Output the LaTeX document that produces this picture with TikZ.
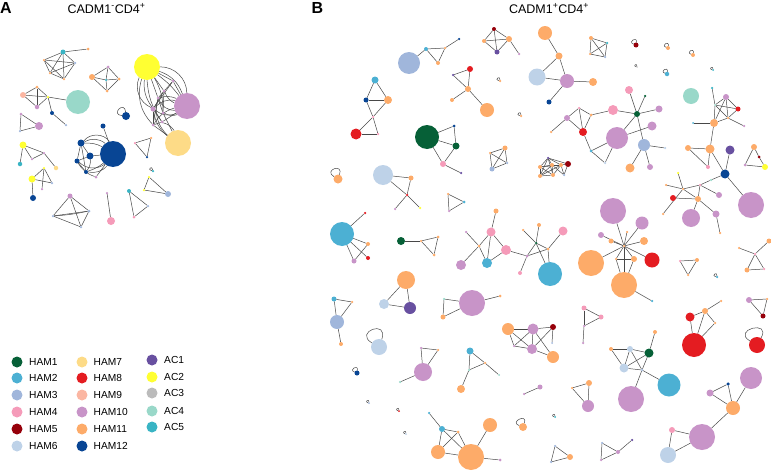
\documentclass[tikz,border=0pt]{standalone}
\usepackage{fontspec}
\setmainfont{Liberation Sans}
\pgfdeclarelayer{bg}
\pgfsetlayers{bg,main}
\definecolor{h1}{RGB}{6,96,55}
\definecolor{h2}{RGB}{76,176,211}
\definecolor{h3}{RGB}{160,182,219}
\definecolor{h4}{RGB}{245,155,185}
\definecolor{h5}{RGB}{150,0,10}
\definecolor{h6}{RGB}{190,210,232}
\definecolor{h7}{RGB}{253,219,135}
\definecolor{h8}{RGB}{228,28,33}
\definecolor{h9}{RGB}{251,182,162}
\definecolor{h10}{RGB}{200,148,200}
\definecolor{h11}{RGB}{253,171,105}
\definecolor{h12}{RGB}{8,69,148}
\definecolor{a1}{RGB}{104,80,160}
\definecolor{a2}{RGB}{255,255,50}
\definecolor{a3}{RGB}{187,187,187}
\definecolor{a4}{RGB}{153,216,201}
\definecolor{a5}{RGB}{57,180,196}
\definecolor{edgec}{RGB}{72,72,72}
\tikzset{
  dot/.style={circle,draw=none,inner sep=0pt,outer sep=0pt},
  edge/.style={draw=edgec,line width=0.5pt},
  legdot/.style={circle,draw=none,inner sep=0pt,minimum size=11pt},
  legtxt/.style={anchor=base west,inner sep=0pt,font=\fontsize{10.2}{12}\selectfont},
  panel/.style={anchor=center,inner sep=0pt,font=\fontsize{16}{18}\selectfont\bfseries},
  ttl/.style={anchor=base,inner sep=0pt,font=\fontsize{12.5}{14}\selectfont}
}
\newcommand\mynd[5]{\node[dot,fill=#4,minimum size=#5pt] (#1) at (#2,#3) {};}
\newcommand\eds[1]{\begin{pgfonlayer}{bg}\foreach \p/\q in {#1} \draw[edge] (\p) -- (\q);\end{pgfonlayer}}
\newcommand\lp[4]{\begin{pgfonlayer}{bg}\draw[edge] (#1) to[out=#2,in=#3,distance=#4pt] (#1);\end{pgfonlayer}}
\newcommand\bd[3]{\begin{pgfonlayer}{bg}\draw[edge] (#1) to[#3] (#2);\end{pgfonlayer}}
\begin{document}
\begin{tikzpicture}[x=1pt,y=-1pt]
\path[use as bounding box] (0,0) rectangle (771,471);
% ---------------- titles
\node[panel] (labA) at (6,7.5) {A};
\node[panel] (labB) at (317.5,7.5) {B};
\node[ttl] (ttlA) at (106.5,13) {CADM1\textsuperscript{-}CD4\textsuperscript{+}};
\node[ttl] (ttlB) at (549,13) {CADM1\textsuperscript{+}CD4\textsuperscript{+}};
% ---------------- legend
\foreach \c/\t/\y [count=\i] in {h1/HAM1/362,h2/HAM2/378,h3/HAM3/395,h4/HAM4/412,h5/HAM5/429,h6/HAM6/446}{
  \node[legdot,fill=\c] (lgd\i) at (17,\y) {};
  \node[legtxt] (lgt\i) at (29,\y+3.6) {\t};}
\foreach \c/\t/\y [count=\i] in {h7/HAM7/362,h8/HAM8/378,h9/HAM9/395,h10/HAM10/412,h11/HAM11/429,h12/HAM12/446}{
  \node[legdot,fill=\c] (lge\i) at (82,\y) {};
  \node[legtxt] (lgu\i) at (93.5,\y+3.6) {\t};}
\foreach \c/\t/\y [count=\i] in {a1/AC1/360,a2/AC2/377,a3/AC3/393,a4/AC4/411,a5/AC5/427}{
  \node[legdot,fill=\c] (lgf\i) at (152,\y) {};
  \node[legtxt] (lgv\i) at (164,\y+3.6) {\t};}
% ================= PANEL A
\mynd{a11}{63}{52}{a5}{5}\mynd{a12}{88}{49}{h11}{3}\mynd{a13}{44}{60}{h11}{2.5}
\mynd{a14}{75}{63}{h3}{2.5}\mynd{a15}{50}{73}{h11}{2.5}\mynd{a16}{64}{79}{h11}{2.5}
\eds{a11/a13,a11/a14,a11/a15,a11/a16,a13/a14,a13/a15,a13/a16,a14/a15,a14/a16,a15/a16,a11/a12}
\mynd{a21}{92}{77}{h11}{6}\mynd{a22}{108}{67}{h10}{3}\mynd{a23}{119}{79}{h11}{3}
\mynd{a24}{107}{91}{h11}{3}\mynd{a25}{106}{80}{a5}{2.5}
\eds{a21/a22,a22/a23,a23/a24,a24/a21,a21/a25,a25/a23,a22/a25,a25/a24}
\mynd{a31}{23}{95}{h9}{6}\mynd{a32}{37}{87}{h11}{3}\mynd{a33}{37}{107}{h10}{4.5}
\mynd{a34}{48}{97}{a2}{2.5}\mynd{a35}{78}{102}{a4}{24}\mynd{a36}{52}{113}{h12}{4}\mynd{a37}{66}{125}{h3}{2.5}
\eds{a31/a32,a32/a34,a34/a33,a33/a31,a31/a34,a32/a33,a34/a35,a34/a36,a36/a37}
\mynd{a41}{21}{114}{h10}{3}\mynd{a42}{39}{126}{h10}{8}\mynd{a43}{20}{131}{h3}{2.5}
\eds{a41/a42,a42/a43,a43/a41}
% hairball right
\mynd{Y}{147}{67}{a2}{26}\mynd{P}{187}{106}{h10}{26}\mynd{H7}{178}{143}{h7}{26}
\mynd{s1}{173}{81}{h10}{3}\mynd{s2}{164}{91}{h10}{3}\mynd{s3}{158}{98}{h10}{3}
\mynd{s4}{153}{109}{h10}{5}\mynd{s5}{153}{125}{h10}{3}\mynd{s6}{162}{122}{h10}{3}\mynd{s7}{163}{113}{h10}{3}
\eds{Y/s1,Y/s2,Y/s3,P/s1,P/s6,H7/s5,H7/s7,s1/s4,s2/s4,s3/s5,s4/s5,s4/s6,s3/s7,s1/s3,s2/s7,s6/s5}
\bd{Y}{s4}{bend right=20}\bd{Y}{s5}{bend right=30}\bd{Y}{s6}{bend right=15}\bd{Y}{s7}{bend left=15}
\bd{Y}{P}{bend left=45}\bd{Y}{P}{bend left=25}\bd{Y}{P}{bend left=8}
\bd{P}{s2}{bend left=20}\bd{P}{s3}{bend right=20}\bd{P}{s4}{bend left=30}\bd{P}{s5}{bend right=20}
\bd{P}{s7}{bend left=25}\bd{P}{s4}{bend right=30}\bd{P}{s3}{bend left=35}
\bd{H7}{s4}{bend left=20}\bd{H7}{s6}{bend right=20}\bd{H7}{s3}{bend left=30}\bd{Y}{s4}{bend right=45}
% self loop
\mynd{a51}{126}{116}{h12}{8}\lp{a51}{175}{95}{12}
% triangle
\mynd{a61}{135}{143}{h4}{2.5}\mynd{a62}{151}{138}{h11}{2.5}\mynd{a63}{147}{157}{h12}{2.5}
\eds{a61/a62,a62/a63,a63/a61}
% dark blue cluster
\mynd{B0}{113}{154}{h12}{26}\mynd{b1}{103}{126}{h12}{5}\mynd{b2}{81}{143}{h12}{7}
\mynd{b3}{90}{156}{h12}{7}\mynd{b4}{77}{161}{h12}{5}\mynd{b5}{86}{172}{h12}{4}\mynd{b6}{96}{177}{h10}{3}
\eds{B0/b1,b2/b3,b2/b4,b3/B0,b4/b5,b3/b4,b2/b5,b6/B0}
\bd{b2}{B0}{bend left=35}\bd{b2}{B0}{bend left=15}\bd{b3}{b5}{bend left=20}\bd{b4}{B0}{bend right=40}
\bd{b5}{B0}{bend right=30}\bd{b4}{b6}{bend right=20}\bd{b2}{B0}{bend left=55}\bd{b5}{B0}{bend right=10}
% lower-left clusters
\mynd{a71}{23}{145}{a2}{7}\mynd{a72}{20}{164}{a5}{4.5}\mynd{a73}{32}{159}{h10}{2.5}
\mynd{a74}{44}{153}{h10}{2.5}\mynd{a75}{56}{168}{h7}{4.5}
\eds{a71/a72,a71/a73,a73/a74,a71/a74,a74/a75}
\mynd{a81}{32}{179}{a2}{7}\mynd{a82}{44}{168}{a2}{2.5}\mynd{a83}{52}{183}{h3}{2.5}
\mynd{a84}{42}{189}{h10}{2.5}\mynd{a85}{33}{198}{h12}{6}
\eds{a81/a82,a82/a83,a81/a83,a82/a84,a81/a85}
\mynd{a91}{70}{196}{h10}{5}\mynd{a92}{89}{211}{h3}{3}\mynd{a93}{53}{216}{h3}{2.5}\mynd{a94}{81}{227}{h3}{2.5}
\eds{a91/a92,a91/a93,a91/a94,a92/a93,a92/a94,a93/a94}
\bd{a93}{a92}{bend right=4}
\mynd{a101}{111}{221}{h4}{8}\mynd{a102}{107}{193}{h10}{2.5}
\eds{a101/a102}
\mynd{a111}{129}{191}{a5}{4}\mynd{a112}{148}{206}{h3}{2.5}\mynd{a113}{134}{217}{h4}{3}
\eds{a111/a112,a112/a113,a113/a111}
\mynd{a121}{149}{177}{a2}{2.5}\mynd{a122}{144}{190}{a2}{2.5}\mynd{a123}{168}{194}{h3}{6}
\eds{a121/a122,a122/a123,a123/a121}
\mynd{a131}{153}{171}{a5}{2.5}\lp{a131}{170}{100}{5}
% ================= PANEL B
\mynd{bq1}{409}{63}{h3}{22}\mynd{bq2}{426}{49}{h2}{4}\mynd{bq3}{445}{48}{h11}{2.5}
\mynd{bq4}{438}{63}{h11}{4}\mynd{bq5}{459}{39}{h12}{2.5}
\eds{bq1/bq2,bq2/bq3,bq3/bq4,bq4/bq2,bq3/bq5}
\mynd{c1}{494}{29}{h5}{4}\mynd{c2}{484}{41}{h11}{4}\mynd{c3}{509}{39}{h11}{6}
\mynd{c4}{497}{52}{a1}{5}\mynd{c5}{519}{54}{h10}{2.5}
\eds{c1/c2,c1/c3,c1/c4,c2/c3,c2/c4,c3/c4,c3/c5}
\mynd{d1}{375}{80}{h2}{7}\mynd{d2}{366}{100}{h12}{5}\mynd{d3}{388}{100}{h11}{8}
\mynd{d4}{373}{117}{h4}{2.5}\mynd{d5}{378}{134}{h4}{2.5}\mynd{d6}{356}{134}{h8}{11}
\eds{d1/d2,d1/d3,d2/d3,d2/d4,d3/d4,d4/d5,d4/d6,d5/d6}
\mynd{e1}{470}{69}{h8}{6}\mynd{e2}{453}{75}{a1}{2.5}\mynd{e3}{468}{89}{h11}{6}
\mynd{e4}{452}{100}{h11}{4}\mynd{e5}{487}{110}{h11}{14}
\eds{e1/e2,e2/e3,e1/e3,e3/e4,e3/e5}
\mynd{l1}{500}{81}{h11}{2.5}\lp{l1}{170}{90}{5}
\mynd{l2}{521}{116}{h11}{2.5}\lp{l2}{170}{90}{5}
\mynd{f1}{427}{137}{h1}{24}\mynd{f2}{454}{126}{h12}{3}\mynd{f3}{456}{146}{h1}{7}
\mynd{f4}{443}{164}{h4}{6}\mynd{f5}{461}{173}{a1}{2.5}
\eds{f1/f2,f2/f3,f1/f3,f1/f4,f3/f4,f4/f5}
\mynd{g1}{505}{148}{h11}{5}\mynd{g2}{490}{153}{h11}{2.5}\mynd{g3}{492}{169}{h3}{5}\mynd{g4}{507}{163}{h3}{2.5}
\eds{g1/g2,g1/g3,g1/g4,g2/g3,g2/g4,g3/g4}
\mynd{hn1}{545}{33}{h11}{14}\mynd{hn2}{559}{56}{h11}{7}\mynd{hn3}{537}{77}{h6}{17}
\mynd{hn4}{567}{81}{h10}{14}\mynd{hn5}{593}{82}{h11}{8}\mynd{hn6}{549}{102}{h12}{5}
\eds{hn1/hn2,hn2/hn3,hn2/hn4,hn3/hn4,hn4/hn5,hn4/hn6}
\mynd{k1}{591}{38}{h11}{4}\mynd{k2}{607}{43}{a5}{2.5}\mynd{k3}{590}{54}{h11}{2.5}\mynd{k4}{605}{57}{h3}{2.5}
\eds{k1/k2,k1/k3,k1/k4,k2/k3,k2/k4,k3/k4}
\mynd{m1}{636}{45}{h5}{5}\lp{m1}{160}{80}{7}
\mynd{m2}{668}{48}{h11}{4}\lp{m2}{160}{80}{6}
\mynd{m3}{693}{55}{h11}{4}\lp{m3}{160}{80}{6}
\mynd{m4}{637}{67}{a3}{1.5}\lp{m4}{170}{90}{4}
\mynd{m5}{667}{74}{h2}{4.5}\lp{m5}{160}{80}{6}
\mynd{m6}{713}{70}{a5}{2}\lp{m6}{170}{90}{4}
% right cluster n
\mynd{n1}{691}{96}{a4}{16}\mynd{n2}{712}{88}{a5}{2.5}\mynd{n3}{726}{97}{h10}{6}\mynd{n4}{738}{109}{h8}{5}
\mynd{n5}{714}{123}{h11}{8}\mynd{n6}{693}{123}{h2}{2}\mynd{n7}{744}{126}{h10}{2.5}\mynd{n8}{728}{118}{h11}{2.5}
\mynd{n9}{715}{105}{a4}{2}
\eds{n2/n9,n9/n5,n9/n3,n3/n4,n3/n5,n3/n8,n9/n4,n4/n8,n5/n8,n8/n7,n5/n6,n9/n8}
% central cluster q
\mynd{q1}{629}{90}{h4}{8}\mynd{q2}{645}{96}{h1}{2.5}\mynd{q3}{613}{110}{h4}{10}\mynd{q4}{637}{114}{h1}{6}
\mynd{q5}{659}{109}{h10}{7}\mynd{q6}{617}{138}{h10}{22}\mynd{q7}{652}{126}{h10}{9}\mynd{q8}{644}{145}{h3}{12}
\mynd{q9}{665}{148}{h6}{2.5}\mynd{q10}{630}{168}{h11}{9}\mynd{q11}{650}{167}{h10}{6}
\eds{q1/q4,q2/q4,q3/q4,q4/q5,q4/q6,q4/q8,q6/q7,q8/q9,q8/q10,q8/q11}
\mynd{r1}{567}{118}{h10}{6}\mynd{r2}{579}{108}{h4}{2.5}\mynd{r3}{591}{115}{h11}{3}\mynd{r4}{583}{132}{h8}{8}
\mynd{r5}{551}{132}{h11}{2.5}\mynd{r6}{591}{151}{h2}{3}\mynd{r7}{605}{163}{h6}{2.5}
\eds{r1/r2,r2/r3,r1/r4,r2/r4,r3/r4,r1/r5,r3/q3,r4/r6,r6/q6,r6/r7,r7/q6}
% cluster p
\mynd{p1}{688}{148}{h11}{6}\mynd{p2}{710}{149}{h11}{9}\mynd{p3}{730}{150}{a1}{9}\mynd{p4}{725}{174}{h12}{9}
\mynd{p5}{708}{167}{h4}{4}\mynd{p6}{678}{173}{a2}{2.5}\mynd{p7}{666}{185}{h11}{2.5}\mynd{p8}{683}{189}{h11}{2.5}
\mynd{p9}{700}{185}{h4}{2.5}\mynd{p10}{711}{180}{a4}{2.5}\mynd{p11}{673}{198}{h8}{6}\mynd{p12}{698}{199}{h11}{6}
\mynd{p13}{719}{195}{h10}{6}\mynd{p14}{691}{218}{h10}{18}\mynd{p15}{716}{214}{h10}{7}\mynd{p16}{663}{214}{h11}{2.5}
\mynd{p17}{720}{233}{h11}{2.5}\mynd{p18}{751}{205}{h10}{26}
\eds{n5/p2,p1/p2,p2/p4,p3/p4,p2/p5,p1/p5,p6/p8,p7/p8,p8/p9,p9/p10,p10/p4,p9/p13,p4/p18,p11/p12,p8/p12,p12/p14,p12/p15,p15/p17,p8/p16,p9/p12}
% hairball w
\mynd{w1}{548}{158}{a1}{2.5}\mynd{w2}{540}{167}{h11}{4}\mynd{w3}{552}{165}{h11}{4}\mynd{w4}{561}{165}{h11}{4}
\mynd{w5}{568}{164}{h5}{6}\mynd{w6}{564}{175}{h3}{2.5}\mynd{w7}{540}{176}{h11}{4}\mynd{w8}{553}{175}{h11}{4}
\eds{w1/w2,w1/w3,w1/w4,w1/w7,w1/w8,w2/w3,w2/w4,w2/w7,w2/w8,w3/w4,w3/w7,w3/w8,w4/w7,w4/w8,w7/w8,w4/w5,w5/w6,w3/w6,w4/w6,w1/w5}
\mynd{t1}{754}{147}{h11}{6}\mynd{t2}{759}{157}{h5}{3}\mynd{t3}{745}{165}{h10}{3}\mynd{t4}{765}{167}{a2}{6}
\eds{t1/t2,t2/t4,t3/t4,t1/t3}
% zoom6 area
\mynd{u1}{338}{179}{h11}{9}\lp{u1}{150}{70}{13}
\mynd{v1}{383}{175}{h6}{20}\mynd{v2}{411}{178}{h11}{5}\mynd{v3}{407}{195}{h8}{2.5}
\mynd{v4}{395}{209}{h10}{2.5}\mynd{v5}{420}{208}{a2}{2.5}
\eds{v1/v2,v1/v3,v2/v3,v3/v4,v3/v5}
\mynd{x1}{448}{194}{h11}{2.5}\mynd{x2}{464}{202}{h2}{3}\mynd{x3}{449}{211}{h10}{2.5}
\eds{x1/x2,x2/x3,x3/x1}
\mynd{y1}{342}{234}{h2}{24}\mynd{y2}{365}{213}{h8}{2.5}\mynd{y3}{368}{244}{h11}{4}
\mynd{y4}{354}{261}{h10}{5}\mynd{y5}{368}{258}{h8}{4}
\eds{y1/y2,y1/y3,y1/y5,y1/y4,y3/y4}
\mynd{z1}{401}{241}{h1}{8}\mynd{z2}{421}{241}{h11}{2.5}\mynd{z3}{438}{237}{h11}{3}\mynd{z4}{434}{255}{h11}{3}
\eds{z1/z2,z2/z3,z2/z4,z3/z4}
\mynd{aa1}{496}{211}{h11}{5}\mynd{aa2}{491}{232}{h4}{9}\mynd{aa3}{466}{232}{h10}{2.5}\mynd{aa4}{479}{246}{h11}{3}
\mynd{aa5}{506}{250}{h4}{10}\mynd{aa6}{487}{263}{h2}{10}\mynd{aa7}{461}{265}{h10}{10}\mynd{aa8}{527}{256}{h10}{3}
\mynd{aa9}{520}{273}{h4}{4}\mynd{aa10}{523}{230}{h11}{2.5}\mynd{aa11}{539}{225}{h11}{4}\mynd{aa12}{536}{243}{h1}{2.5}
\mynd{aa13}{548}{249}{h11}{3}\mynd{aa14}{563}{231}{h4}{9}\mynd{aa15}{550}{274}{h2}{24}
\eds{aa1/aa2,aa2/aa4,aa2/aa5,aa3/aa4,aa4/aa6,aa2/aa6,aa4/aa7,aa5/aa6,aa5/aa8,aa8/aa9,aa10/aa12,aa11/aa12,aa12/aa13,aa13/aa14,aa12/aa8,aa8/aa13,aa12/aa15,aa13/aa15}
\mynd{bb1}{406}{280}{h11}{18}\mynd{bb2}{384}{304}{h6}{10}\mynd{bb3}{410}{308}{a1}{12}
\eds{bb1/bb2,bb1/bb3,bb2/bb3}
\mynd{cc1}{334}{299}{h2}{5}\mynd{cc2}{352}{302}{h11}{2.5}\mynd{cc3}{337}{322}{h3}{14}\mynd{cc4}{341}{344}{h11}{4}
\eds{cc1/cc2,cc1/cc3,cc2/cc3,cc3/cc4}
\mynd{dd1}{472}{303}{h10}{26}\mynd{dd2}{444}{299}{a4}{2.5}\mynd{dd3}{500}{296}{h11}{3}\mynd{dd4}{443}{317}{h11}{5}
\eds{dd1/dd2,dd1/dd3,dd2/dd4,dd4/dd1}
% star cluster
\mynd{ee0}{624}{246}{h11}{2.5}\mynd{ee1}{613}{211}{h10}{26}\mynd{ee2}{642}{223}{h10}{13}\mynd{ee3}{601}{235}{h10}{6}
\mynd{ee4}{627}{232}{h11}{2.5}\mynd{ee5}{611}{241}{h11}{5}\mynd{ee6}{644}{241}{h11}{8}\mynd{ee7}{616}{259}{h11}{2.5}
\mynd{ee8}{634}{259}{h11}{6}\mynd{ee9}{652}{260}{h8}{15}\mynd{ee10}{591}{263}{h11}{26}\mynd{ee11}{624}{285}{h11}{26}
\mynd{ee12}{652}{301}{h2}{2.5}
\eds{ee0/ee1,ee0/ee2,ee0/ee3,ee0/ee4,ee0/ee5,ee0/ee6,ee0/ee7,ee0/ee8,ee0/ee9,ee0/ee10,ee0/ee11,ee7/ee8,ee7/ee11,ee8/ee11,ee11/ee12}
\mynd{ff1}{680}{261}{h4}{2.5}\mynd{ff2}{697}{260}{h11}{4}\mynd{ff3}{688}{275}{h11}{2.5}
\eds{ff1/ff2,ff2/ff3,ff3/ff1}
\mynd{gg1}{717}{277}{h2}{2.5}\lp{gg1}{170}{90}{5}
\mynd{hh1}{769}{241}{h11}{5}\mynd{hh2}{739}{248}{h11}{2.5}\mynd{hh3}{755}{254}{h4}{2.5}
\mynd{hh4}{747}{270}{h11}{5}\mynd{hh5}{764}{269}{h4}{2.5}
\eds{hh2/hh3,hh1/hh3,hh3/hh4,hh3/hh5,hh4/hh5}
\mynd{ii1}{584}{308}{h4}{5}\mynd{ii2}{601}{317}{h4}{5}\mynd{ii3}{584}{326}{h10}{2.5}\mynd{ii4}{583}{343}{h10}{2.5}
\eds{ii1/ii2,ii2/ii3,ii3/ii1,ii3/ii4}
\mynd{jj1}{721}{301}{h11}{2.5}\mynd{jj2}{705}{311}{h11}{6}\mynd{jj3}{690}{317}{h8}{9}\mynd{jj4}{715}{323}{h11}{2.5}
\mynd{jj5}{694}{345}{h8}{24}\mynd{jj6}{757}{345}{h8}{16}
\eds{jj1/jj2,jj2/jj3,jj2/jj4,jj3/jj5,jj2/jj5,jj4/jj5}
\lp{jj6}{150}{60}{22}
\mynd{kk1}{749}{300}{h10}{6}\mynd{kk2}{767}{299}{h11}{2.5}\mynd{kk3}{763}{316}{h5}{5}
\eds{kk1/kk2,kk2/kk3,kk3/kk1}
\mynd{ll1}{508}{329}{h11}{12}\mynd{ll2}{533}{329}{h10}{11}\mynd{ll3}{553}{327}{h5}{6}\mynd{ll4}{514}{346}{h10}{2.5}
\mynd{ll5}{532}{349}{h10}{10}\mynd{ll6}{553}{357}{h11}{12}\mynd{ll7}{552}{343}{h3}{2}
\eds{ll1/ll2,ll2/ll3,ll1/ll5,ll2/ll4,ll2/ll5,ll4/ll5,ll3/ll5,ll3/ll7,ll5/ll6,ll2/ll6,ll1/ll4}
\mynd{mm1}{611}{349}{h11}{4}\mynd{mm2}{630}{349}{h6}{6}\mynd{mm3}{649}{353}{h1}{9}\mynd{mm4}{655}{332}{h11}{4}
\mynd{mm5}{624}{368}{h6}{9}\mynd{mm6}{642}{370}{h3}{2.5}\mynd{mm7}{669}{385}{h2}{23}\mynd{mm8}{631}{399}{h10}{26}
\eds{mm1/mm2,mm2/mm3,mm1/mm5,mm2/mm5,mm2/mm6,mm3/mm5,mm3/mm6,mm5/mm6,mm3/mm4,mm6/mm7,mm6/mm8}
\mynd{nn1}{524}{394}{h10}{2.5}\mynd{nn2}{540}{387}{h10}{5}
\eds{nn1/nn2}
\mynd{oo1}{572}{388}{h11}{2.5}\mynd{oo2}{589}{383}{h11}{6}\mynd{oo3}{588}{406}{h10}{12}
\eds{oo1/oo2,oo2/oo3,oo3/oo1}
\mynd{lq1}{555}{417}{a5}{2}\lp{lq1}{170}{90}{4}
\mynd{lq2}{523}{427}{h11}{8}\lp{lq2}{160}{70}{11}
\mynd{pp1}{555}{446}{h3}{2.5}\mynd{pp2}{570}{457}{h11}{6}\mynd{pp3}{551}{462}{h3}{2.5}
\eds{pp1/pp2,pp2/pp3,pp3/pp1}
\mynd{qq1}{602}{443}{h3}{2.5}\mynd{qq2}{618}{452}{h10}{4}\mynd{qq3}{632}{440}{a1}{2.5}\mynd{qq4}{601}{460}{h10}{2.5}
\eds{qq1/qq2,qq2/qq3,qq1/qq4,qq4/qq2}
\mynd{rr1}{672}{430}{h4}{6}\mynd{rr2}{668}{455}{h6}{16}\mynd{rr3}{702}{437}{h10}{26}
\eds{rr1/rr3,rr2/rr3,rr1/rr2}
\mynd{ss1}{710}{393}{h10}{7}\mynd{ss2}{728}{384}{h12}{3.5}\mynd{ss3}{733}{408}{h11}{14}\mynd{ss4}{751}{378}{h10}{22}
\eds{ss1/ss2,ss1/ss3,ss2/ss3,ss3/ss4,ss3/rr3}
\mynd{tt1}{379}{347}{h6}{16}\lp{tt1}{150}{70}{22}
\mynd{uu1}{421}{348}{h10}{2.5}\mynd{uu2}{438}{350}{h11}{2.5}\mynd{uu3}{423}{372}{h10}{18}\mynd{uu4}{400}{382}{a4}{2.5}
\eds{uu1/uu2,uu1/uu3,uu2/uu3,uu3/uu4}
\mynd{vv1}{470}{351}{h2}{7}\mynd{vv2}{485}{363}{h11}{2.5}\mynd{vv3}{469}{370}{a4}{2.5}\mynd{vv4}{499}{375}{a4}{2}\mynd{vv5}{461}{389}{h11}{8}
\eds{vv1/vv3,vv1/vv2,vv2/vv3,vv2/vv4,vv3/vv5}
\mynd{lo1}{357}{373}{h12}{5}\lp{lo1}{160}{80}{7}
\mynd{lo2}{369}{403}{h3}{2}\lp{lo2}{170}{90}{4}
\mynd{lo3}{399}{411}{h8}{2}\lp{lo3}{170}{90}{4}
\mynd{lo4}{406}{434}{h6}{2}\lp{lo4}{170}{90}{4}
\mynd{ww1}{429}{413}{h2}{2.5}\mynd{ww2}{442}{429}{h2}{6}\mynd{ww3}{458}{432}{h11}{3}\mynd{ww4}{438}{452}{h11}{14}
\mynd{ww5}{471}{457}{h11}{26}\mynd{ww6}{490}{425}{h11}{14}\mynd{ww7}{500}{460}{h10}{3}
\eds{ww1/ww2,ww2/ww3,ww2/ww4,ww2/ww5,ww3/ww4,ww3/ww5,ww4/ww5,ww5/ww6,ww5/ww7}
\end{tikzpicture}
\end{document}
